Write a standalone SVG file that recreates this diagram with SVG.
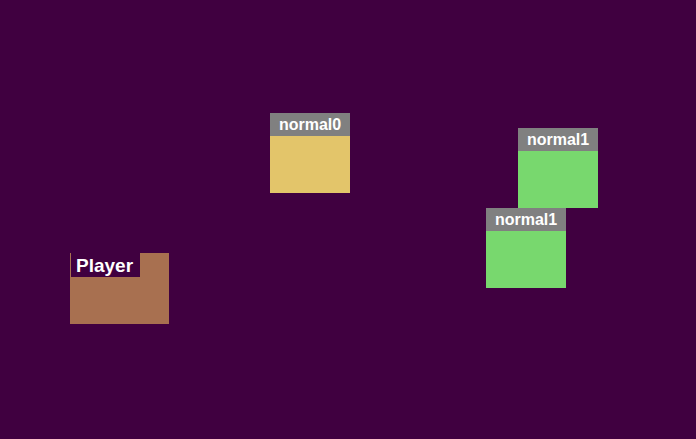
<svg xmlns="http://www.w3.org/2000/svg" width="696" height="439" viewBox="0 0 696 439">
<style>
.hdr{fill:#808080}
.lbl{font-family:"Liberation Sans",Arial,sans-serif;font-weight:bold;font-size:16px;fill:#ffffff;text-anchor:middle}
.green{fill:#78d86e}
</style>
<rect width="696" height="439" fill="#400040"/>
<g id="connectors"></g>
<g id="player">
<rect x="70" y="253" width="99" height="71" fill="#a87050"/>
<rect x="71" y="253" width="69" height="24" fill="#400040"/>
<text x="76" y="272" font-family="'Liberation Sans',Arial,sans-serif" font-weight="bold" font-size="19" fill="#ffffff">Player</text>
</g>
<g id="normal0">
<rect x="270" y="113" width="80" height="80" fill="#e3c56a"/>
<rect class="hdr" x="270" y="113" width="80" height="23"/>
<text class="lbl" x="310" y="130">normal0</text>
</g>
<g id="normal1a">
<rect class="green" x="518" y="128" width="80" height="80"/>
<rect class="hdr" x="518" y="128" width="80" height="23"/>
<text class="lbl" x="558" y="145">normal1</text>
</g>
<g id="normal1b">
<rect class="green" x="486" y="208" width="80" height="80"/>
<rect class="hdr" x="486" y="208" width="80" height="23"/>
<text class="lbl" x="526" y="225">normal1</text>
</g>
</svg>
